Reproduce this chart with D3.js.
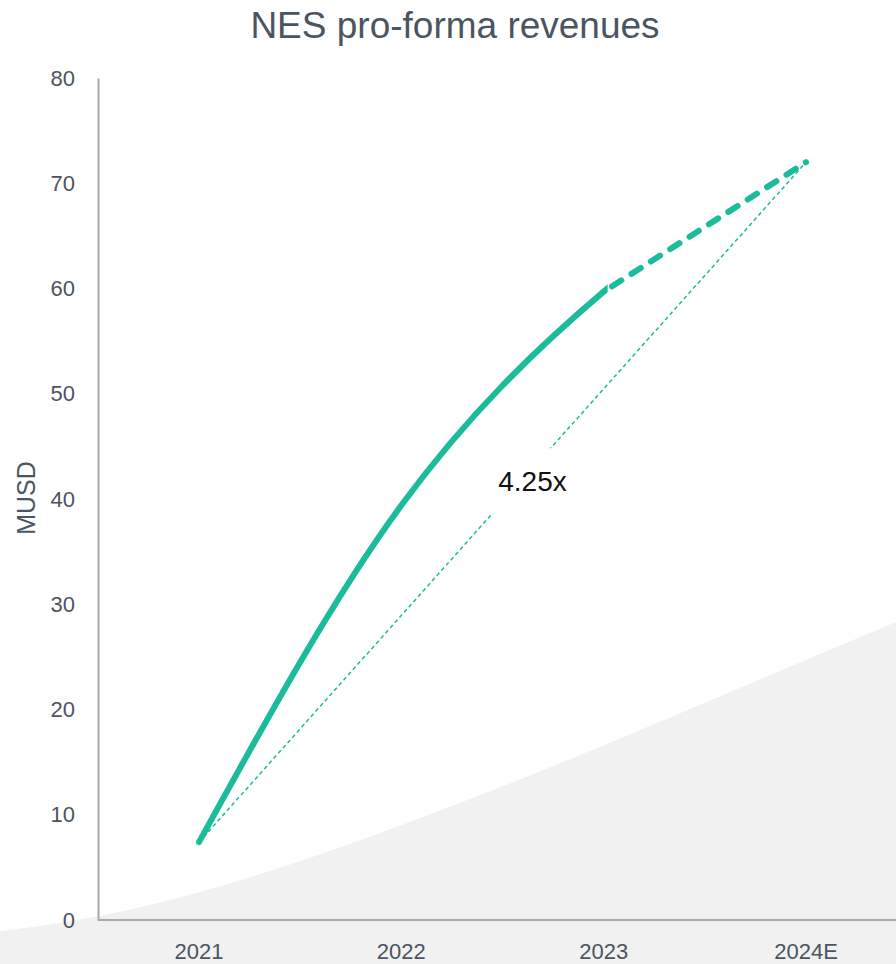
<!DOCTYPE html>
<html>
<head>
<meta charset="utf-8">
<script src="https://cdn.jsdelivr.net/npm/d3@7"></script>
<style>
  body { margin: 0; background: #fff; }
  svg { display: block; font-family: "Liberation Sans", Arial, sans-serif; }
</style>
</head>
<body>
<div id="chart"></div>
<script>
// data
var years = ["2021", "2022", "2023", "2024E"];
var revenues = [7.4, 39.4, 59.7, 72.0];
var yTicks = [0, 10, 20, 30, 40, 50, 60, 70, 80];
var multipleLabel = "4.25x";
var lastActual = "2023";

var width = 896, height = 964;
var margin = { top: 78, right: 0, bottom: 44, left: 98 };
var teal = "#1abc9c";
var textColor = "#4b5561";

var svg = d3.select("#chart").append("svg")
    .attr("width", width)
    .attr("height", height);

// decorative grey background swoosh
svg.append("path")
    .attr("d", "M0,931 C180,912 360,845 600,747 L896,622 L896,964 L0,964 Z")
    .attr("fill", "#f1f1f1");

var x = d3.scalePoint()
    .domain(years)
    .range([199, 806]);

var y = d3.scaleLinear()
    .domain([0, 80])
    .range([height - margin.bottom, margin.top]);

// title
svg.append("text")
    .attr("x", 455)
    .attr("y", 38)
    .attr("text-anchor", "middle")
    .style("font-size", "37px")
    .style("fill", textColor)
    .text("NES pro-forma revenues");

// y axis
var yAxis = svg.append("g")
    .attr("transform", `translate(${margin.left},0)`)
    .call(d3.axisLeft(y).tickValues(yTicks).tickSize(0).tickPadding(23));
yAxis.select(".domain").attr("stroke", "#aaaaaa").attr("stroke-width", 2);
yAxis.selectAll("text")
    .style("font-size", "22px")
    .style("fill", textColor)
    .style("font-family", "Liberation Sans, Arial, sans-serif");

// x axis
svg.append("line")
    .attr("x1", margin.left)
    .attr("x2", width)
    .attr("y1", y(0))
    .attr("y2", y(0))
    .attr("stroke", "#aaaaaa")
    .attr("stroke-width", 2);

svg.append("g")
    .selectAll("text")
    .data(years)
    .enter().append("text")
    .attr("x", function (d) { return x(d); })
    .attr("y", 959)
    .attr("text-anchor", "middle")
    .style("font-size", "22px")
    .style("fill", textColor)
    .text(function (d) { return d; });

// y label
svg.append("text")
    .attr("transform", "translate(35,498) rotate(-90)")
    .attr("text-anchor", "middle")
    .style("font-size", "25px")
    .style("fill", textColor)
    .text("MUSD");

var pts = years.map(function (d, i) { return [x(d), y(revenues[i])]; });

// thin dotted line from first to last point
svg.append("line")
    .attr("x1", pts[0][0])
    .attr("y1", pts[0][1])
    .attr("x2", pts[3][0])
    .attr("y2", pts[3][1])
    .attr("stroke", teal)
    .attr("stroke-width", 1.5)
    .attr("stroke-dasharray", "4,3");

// label with white box
var mid = [(pts[0][0] + pts[3][0]) / 2, (pts[0][1] + pts[3][1]) / 2];
var lbl = svg.append("g").attr("transform", `translate(${mid[0] + 30},${mid[1] - 21})`);
lbl.append("rect")
    .attr("x", -44)
    .attr("y", -33)
    .attr("width", 88)
    .attr("height", 65)
    .attr("fill", "#fff");
lbl.append("text")
    .attr("text-anchor", "middle")
    .attr("dy", "0.35em")
    .style("font-size", "28px")
    .style("fill", "#111")
    .text(multipleLabel);

// clip regions: actuals left of last actual year, estimate right of it
var splitX = x(lastActual);
var defs = svg.append("defs");
defs.append("clipPath").attr("id", "clipActual")
    .append("rect").attr("x", 0).attr("y", 0).attr("width", splitX + 4).attr("height", height);
defs.append("clipPath").attr("id", "clipEst")
    .append("rect").attr("x", splitX + 4).attr("y", 0).attr("width", width).attr("height", height);

var line = d3.line().curve(d3.curveMonotoneX);

// actuals: solid curve
svg.append("path")
    .attr("d", line(pts))
    .attr("clip-path", "url(#clipActual)")
    .attr("fill", "none")
    .attr("stroke", teal)
    .attr("stroke-width", 6)
    .attr("stroke-linecap", "round");

// estimate: dashed
svg.append("path")
    .attr("d", line(pts.slice(2)))
    .attr("clip-path", "url(#clipEst)")
    .attr("fill", "none")
    .attr("stroke", teal)
    .attr("stroke-width", 6)
    .attr("stroke-linecap", "round")
    .attr("stroke-dasharray", "11,12")
    .attr("stroke-dashoffset", -10);
</script>
</body>
</html>
